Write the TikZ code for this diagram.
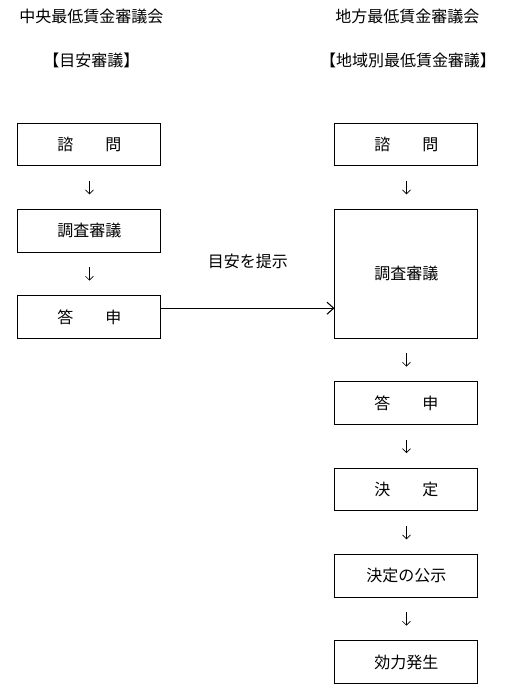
\documentclass[tikz,border=0pt]{standalone}
\usepackage{fontspec}
\setmainfont{Noto Sans CJK JP}
\usetikzlibrary{positioning, arrows.meta}

\begin{document}
\begin{tikzpicture}[
  x=1pt, y=1pt,
  node distance=32pt and 129.75pt,
  every node/.style={font=\fontsize{12pt}{14pt}\selectfont},
  box/.style={draw, line width=0.75pt, minimum width=107.25pt, minimum height=32pt, inner sep=0pt, align=center},
  tallbox/.style={box, minimum height=96.5pt},
  down/.style={-{Straight Barb[length=3pt,width=6pt]}, line width=0.5pt, shorten <=11pt, shorten >=11pt},
  arr/.style={-{Straight Barb[length=5pt,width=9pt]}, line width=0.8pt}
]
\useasboundingbox (0,0) rectangle (378.75,-520.5);

% headings
\node (lhead) at (68.6,-12) {中央最低賃金審議会};
\node (lsub) at (68.6,-45) {【目安審議】};
\node (rhead) at (305.6,-12) {地方最低賃金審議会};
\node (rsub) at (306,-45) {【地域別最低賃金審議】};

% central council
\node[box] (lq) at (67.1,-108.4) {諮　　問};
\node[box, below=of lq] (lc) {調査審議};
\node[box, below=of lc] (la) {答　　申};

% local council
\node[box, right=of lq] (rq) {諮　　問};
\node[tallbox, below=of rq] (rc) {調査審議};
\node[box, below=of rc] (ra) {答　　申};
\node[box, below=of ra] (rd) {決　　定};
\node[box, below=of rd] (rp) {決定の公示};
\node[box, below=of rp] (re) {効力発生};

\draw[down] (lq) -- (lc);
\draw[down] (lc) -- (la);
\draw[down] (rq) -- (rc);
\draw[down] (rc) -- (ra);
\draw[down] (ra) -- (rd);
\draw[down] (rd) -- (rp);
\draw[down] (rp) -- (re);

\coordinate (src) at ([yshift=6.75pt]la.east);
\draw[arr] (src) -- (src -| rc.west) node[midway, above=26pt] {目安を提示};
\end{tikzpicture}
\end{document}
